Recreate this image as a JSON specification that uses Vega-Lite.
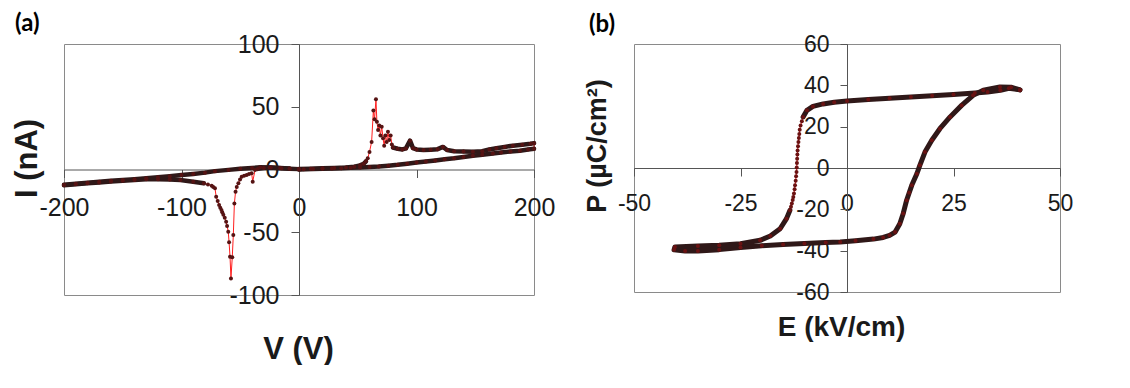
{
  "$schema": "https://vega.github.io/schema/vega-lite/v6.json",
  "background": "white",
  "padding": {"left": 10, "top": 11, "right": 0, "bottom": 0},
  "bounds": "flush",
  "spacing": 100,
  "config": {
    "view": {"stroke": "#8a8a8a", "strokeWidth": 1},
    "axis": {
      "grid": false,
      "domainColor": "#555555",
      "tickColor": "#555555",
      "labelColor": "#1a1a1a",
      "titleColor": "#1a1a1a",
      "labelFont": "Liberation Sans",
      "titleFont": "Liberation Sans",
      "titleFontWeight": "bold",
      "labelFlush": false,
      "labelOverlap": false,
      "labelExpr": "datum.value + ''",
      "titleAlign": "center",
      "titleBaseline": "middle"
    },
    "title": {"font": "Lato", "fontWeight": "bold", "color": "#000000", "anchor": "start", "frame": "group"}
  },
  "datasets": {
    "iv": [
      {"t": 1, "v": 0, "i": 0.3, "s": "rise+"},
      {"t": 2, "v": 10, "i": 0.5, "s": "rise+"},
      {"t": 3, "v": 20, "i": 0.9, "s": "rise+"},
      {"t": 4, "v": 30, "i": 1.2, "s": "rise+"},
      {"t": 5, "v": 40, "i": 1.6, "s": "rise+"},
      {"t": 6, "v": 47, "i": 2.2, "s": "rise+"},
      {"t": 7, "v": 52, "i": 3.3, "s": "rise+"},
      {"t": 8, "v": 55, "i": 4.6, "s": "rise+"},
      {"t": 9, "v": 57, "i": 6.5, "s": "rise+"},
      {"t": 10, "v": 58.5, "i": 9, "s": "peak"},
      {"t": 11, "v": 60, "i": 14, "s": "peak"},
      {"t": 12, "v": 61.8, "i": 22, "s": "peak"},
      {"t": 13, "v": 63.3, "i": 47, "s": "peak"},
      {"t": 14, "v": 64.3, "i": 40, "s": "peak"},
      {"t": 15, "v": 65.5, "i": 56, "s": "peak"},
      {"t": 16, "v": 66.3, "i": 38, "s": "peak"},
      {"t": 17, "v": 67.3, "i": 31.5, "s": "peak"},
      {"t": 18, "v": 68.3, "i": 35, "s": "peak"},
      {"t": 19, "v": 69.3, "i": 27, "s": "peak"},
      {"t": 20, "v": 70.4, "i": 34, "s": "peak"},
      {"t": 21, "v": 71.5, "i": 25, "s": "peak"},
      {"t": 22, "v": 72.5, "i": 19, "s": "peak"},
      {"t": 23, "v": 73.5, "i": 27, "s": "peak"},
      {"t": 24, "v": 74.6, "i": 22, "s": "peak"},
      {"t": 25, "v": 75.7, "i": 30, "s": "peak"},
      {"t": 26, "v": 76.8, "i": 23.5, "s": "peak"},
      {"t": 27, "v": 78, "i": 27, "s": "peak"},
      {"t": 28, "v": 79, "i": 20, "s": "peak"},
      {"t": 29, "v": 80, "i": 17.5, "s": "hold+"},
      {"t": 30, "v": 84, "i": 16.5, "s": "hold+"},
      {"t": 31, "v": 88, "i": 16, "s": "hold+"},
      {"t": 32, "v": 91, "i": 16.8, "s": "hold+"},
      {"t": 33, "v": 94.5, "i": 23, "s": "hold+"},
      {"t": 34, "v": 97, "i": 17, "s": "hold+"},
      {"t": 35, "v": 100, "i": 16, "s": "hold+"},
      {"t": 36, "v": 106, "i": 15.5, "s": "hold+"},
      {"t": 37, "v": 112, "i": 15.8, "s": "hold+"},
      {"t": 38, "v": 118, "i": 16.2, "s": "hold+"},
      {"t": 39, "v": 122.5, "i": 18, "s": "hold+"},
      {"t": 40, "v": 126, "i": 15.5, "s": "hold+"},
      {"t": 41, "v": 132, "i": 14.5, "s": "hold+"},
      {"t": 42, "v": 140, "i": 14.3, "s": "hold+"},
      {"t": 43, "v": 148, "i": 14.2, "s": "hold+"},
      {"t": 44, "v": 156, "i": 14.6, "s": "hold+"},
      {"t": 45, "v": 162, "i": 16, "s": "hold+"},
      {"t": 46, "v": 168, "i": 17, "s": "hold+"},
      {"t": 47, "v": 175, "i": 18, "s": "hold+"},
      {"t": 48, "v": 182, "i": 19, "s": "hold+"},
      {"t": 49, "v": 190, "i": 19.8, "s": "hold+"},
      {"t": 50, "v": 197, "i": 20.5, "s": "hold+"},
      {"t": 51, "v": 200, "i": 21, "s": "hold+"},
      {"t": 52, "v": 200, "i": 16.5, "s": "fall+"},
      {"t": 53, "v": 195, "i": 16, "s": "fall+"},
      {"t": 54, "v": 188, "i": 15, "s": "fall+"},
      {"t": 55, "v": 180, "i": 14.3, "s": "fall+"},
      {"t": 56, "v": 172, "i": 13.5, "s": "fall+"},
      {"t": 57, "v": 165, "i": 12.8, "s": "fall+"},
      {"t": 58, "v": 156, "i": 11.8, "s": "fall+"},
      {"t": 59, "v": 148, "i": 11, "s": "fall+"},
      {"t": 60, "v": 140, "i": 10, "s": "fall+"},
      {"t": 61, "v": 132, "i": 9, "s": "fall+"},
      {"t": 62, "v": 124, "i": 8.2, "s": "fall+"},
      {"t": 63, "v": 116, "i": 7.2, "s": "fall+"},
      {"t": 64, "v": 108, "i": 6.3, "s": "fall+"},
      {"t": 65, "v": 100, "i": 5.5, "s": "fall+"},
      {"t": 66, "v": 92, "i": 4.6, "s": "fall+"},
      {"t": 67, "v": 84, "i": 3.7, "s": "fall+"},
      {"t": 68, "v": 76, "i": 3, "s": "fall+"},
      {"t": 69, "v": 68, "i": 2.4, "s": "fall+"},
      {"t": 70, "v": 60, "i": 2, "s": "fall+"},
      {"t": 71, "v": 52, "i": 1.6, "s": "fall+"},
      {"t": 72, "v": 44, "i": 1.3, "s": "fall+"},
      {"t": 73, "v": 36, "i": 1, "s": "fall+"},
      {"t": 74, "v": 28, "i": 0.8, "s": "fall+"},
      {"t": 75, "v": 20, "i": 0.6, "s": "fall+"},
      {"t": 76, "v": 12, "i": 0.4, "s": "fall+"},
      {"t": 77, "v": 4, "i": 0.1, "s": "fall+"},
      {"t": 78, "v": 0, "i": 0, "s": "fall+"},
      {"t": 79, "v": -8, "i": 0.8, "s": "fall-"},
      {"t": 80, "v": -16, "i": 1.2, "s": "fall-"},
      {"t": 81, "v": -24, "i": 1.5, "s": "fall-"},
      {"t": 82, "v": -30, "i": 1.2, "s": "fall-"},
      {"t": 83, "v": -35, "i": 0.5, "s": "fall-"},
      {"t": 84, "v": -37.4, "i": -0.4, "s": "dip"},
      {"t": 85, "v": -39.4, "i": -9.7, "s": "dip"},
      {"t": 86, "v": -40.3, "i": -3, "s": "dip"},
      {"t": 87, "v": -42.5, "i": -3.6, "s": "dip"},
      {"t": 88, "v": -44.5, "i": -4.4, "s": "dip"},
      {"t": 89, "v": -46.7, "i": -5, "s": "dip"},
      {"t": 90, "v": -48.8, "i": -5.7, "s": "dip"},
      {"t": 91, "v": -50.2, "i": -8, "s": "dip"},
      {"t": 92, "v": -51.6, "i": -11, "s": "dip"},
      {"t": 93, "v": -53, "i": -14, "s": "dip"},
      {"t": 94, "v": -54, "i": -17.7, "s": "dip"},
      {"t": 95, "v": -55, "i": -27, "s": "dip"},
      {"t": 96, "v": -55.9, "i": -52.2, "s": "dip"},
      {"t": 97, "v": -56.8, "i": -70, "s": "dip"},
      {"t": 98, "v": -57.9, "i": -86.8, "s": "dip"},
      {"t": 99, "v": -58.7, "i": -69.5, "s": "dip"},
      {"t": 100, "v": -59.5, "i": -58, "s": "dip"},
      {"t": 101, "v": -60.2, "i": -49.6, "s": "dip"},
      {"t": 102, "v": -61.2, "i": -45, "s": "dip"},
      {"t": 103, "v": -62, "i": -41.6, "s": "dip"},
      {"t": 104, "v": -63.2, "i": -38.5, "s": "dip"},
      {"t": 105, "v": -64.4, "i": -36, "s": "dip"},
      {"t": 106, "v": -65.3, "i": -34, "s": "dip"},
      {"t": 107, "v": -66, "i": -32.3, "s": "dip"},
      {"t": 108, "v": -67, "i": -30.5, "s": "dip"},
      {"t": 109, "v": -68, "i": -28.3, "s": "dip"},
      {"t": 110, "v": -69.2, "i": -25, "s": "dip"},
      {"t": 111, "v": -70.5, "i": -21.7, "s": "dip"},
      {"t": 112, "v": -71.5, "i": -15, "s": "dip"},
      {"t": 113, "v": -73, "i": -14, "s": "dip"},
      {"t": 114, "v": -74.3, "i": -13, "s": "dip"},
      {"t": 115, "v": -77.5, "i": -12, "s": "dip"},
      {"t": 116, "v": -81, "i": -11, "s": "tail-"},
      {"t": 117, "v": -90, "i": -9.7, "s": "tail-"},
      {"t": 118, "v": -101, "i": -8.4, "s": "tail-"},
      {"t": 119, "v": -110, "i": -8, "s": "tail-"},
      {"t": 120, "v": -120, "i": -7.8, "s": "tail-"},
      {"t": 121, "v": -130, "i": -7.8, "s": "tail-"},
      {"t": 122, "v": -140, "i": -8.3, "s": "tail-"},
      {"t": 123, "v": -150, "i": -9, "s": "tail-"},
      {"t": 124, "v": -160, "i": -9.5, "s": "tail-"},
      {"t": 125, "v": -170, "i": -10.3, "s": "tail-"},
      {"t": 126, "v": -180, "i": -11, "s": "tail-"},
      {"t": 127, "v": -190, "i": -11.8, "s": "tail-"},
      {"t": 128, "v": -200, "i": -12.6, "s": "tail-"},
      {"t": 129, "v": -200, "i": -12.2, "s": "rise-"},
      {"t": 130, "v": -190, "i": -11.4, "s": "rise-"},
      {"t": 131, "v": -180, "i": -10.6, "s": "rise-"},
      {"t": 132, "v": -170, "i": -9.8, "s": "rise-"},
      {"t": 133, "v": -160, "i": -9, "s": "rise-"},
      {"t": 134, "v": -150, "i": -8.4, "s": "rise-"},
      {"t": 135, "v": -140, "i": -7.8, "s": "rise-"},
      {"t": 136, "v": -130, "i": -7, "s": "rise-"},
      {"t": 137, "v": -120, "i": -6.2, "s": "rise-"},
      {"t": 138, "v": -110, "i": -5.3, "s": "rise-"},
      {"t": 139, "v": -100, "i": -4.4, "s": "rise-"},
      {"t": 140, "v": -90, "i": -3.5, "s": "rise-"},
      {"t": 141, "v": -80, "i": -2.5, "s": "rise-"},
      {"t": 142, "v": -71.5, "i": -1.3, "s": "rise-"},
      {"t": 143, "v": -60, "i": -0.3, "s": "rise-"},
      {"t": 144, "v": -50, "i": 0.6, "s": "rise-"},
      {"t": 145, "v": -40, "i": 1.2, "s": "rise-"},
      {"t": 146, "v": -33, "i": 1.7, "s": "rise-"},
      {"t": 147, "v": -25, "i": 1.5, "s": "rise-"},
      {"t": 148, "v": -15, "i": 1, "s": "rise-"},
      {"t": 149, "v": -8, "i": 0.6, "s": "rise-"},
      {"t": 150, "v": 0, "i": 0.3, "s": "rise-"}
    ],
    "pe": [
      {"t": 1, "e": 40.6, "p": 37.8, "s": "top"},
      {"t": 2, "e": 38, "p": 38.6, "s": "top"},
      {"t": 3, "e": 36, "p": 37.6, "s": "top"},
      {"t": 4, "e": 33, "p": 36.8, "s": "top"},
      {"t": 5, "e": 30, "p": 36.3, "s": "top"},
      {"t": 6, "e": 25, "p": 35.6, "s": "top"},
      {"t": 7, "e": 20, "p": 35, "s": "top"},
      {"t": 8, "e": 15, "p": 34.4, "s": "top"},
      {"t": 9, "e": 10, "p": 33.7, "s": "top"},
      {"t": 10, "e": 5, "p": 33.1, "s": "top"},
      {"t": 11, "e": 0, "p": 32.4, "s": "top"},
      {"t": 12, "e": -3, "p": 31.8, "s": "top"},
      {"t": 13, "e": -5.6, "p": 31, "s": "top"},
      {"t": 14, "e": -8, "p": 29.8, "s": "top"},
      {"t": 15, "e": -9.4, "p": 27.9, "s": "top"},
      {"t": 16, "e": -10.3, "p": 24.7, "s": "top"},
      {"t": 17, "e": -10.6, "p": 22.6, "s": "switch"},
      {"t": 18, "e": -10.9, "p": 20.6, "s": "switch"},
      {"t": 19, "e": -11.1, "p": 18.5, "s": "switch"},
      {"t": 20, "e": -11.2, "p": 16.5, "s": "switch"},
      {"t": 21, "e": -11.3, "p": 14.5, "s": "switch"},
      {"t": 22, "e": -11.4, "p": 12.6, "s": "switch"},
      {"t": 23, "e": -11.5, "p": 10.5, "s": "switch"},
      {"t": 24, "e": -11.6, "p": 8.5, "s": "switch"},
      {"t": 25, "e": -11.65, "p": 6.5, "s": "switch"},
      {"t": 26, "e": -11.7, "p": 4.5, "s": "switch"},
      {"t": 27, "e": -11.75, "p": 2.4, "s": "switch"},
      {"t": 28, "e": -11.8, "p": 0.3, "s": "switch"},
      {"t": 29, "e": -11.85, "p": -1.9, "s": "switch"},
      {"t": 30, "e": -11.95, "p": -4, "s": "switch"},
      {"t": 31, "e": -12.05, "p": -6.2, "s": "switch"},
      {"t": 32, "e": -12.2, "p": -8.4, "s": "switch"},
      {"t": 33, "e": -12.3, "p": -10.3, "s": "switch"},
      {"t": 34, "e": -12.45, "p": -12.3, "s": "switch"},
      {"t": 35, "e": -12.6, "p": -14, "s": "switch"},
      {"t": 36, "e": -12.75, "p": -15.5, "s": "switch"},
      {"t": 37, "e": -12.95, "p": -17.2, "s": "switch"},
      {"t": 38, "e": -13.15, "p": -18.8, "s": "switch"},
      {"t": 39, "e": -13.4, "p": -20.5, "s": "bottom"},
      {"t": 40, "e": -14.2, "p": -24.5, "s": "bottom"},
      {"t": 41, "e": -15.7, "p": -29.4, "s": "bottom"},
      {"t": 42, "e": -18, "p": -32.9, "s": "bottom"},
      {"t": 43, "e": -20.4, "p": -35, "s": "bottom"},
      {"t": 44, "e": -25, "p": -36.6, "s": "bottom"},
      {"t": 45, "e": -30, "p": -37.4, "s": "bottom"},
      {"t": 46, "e": -35, "p": -37.8, "s": "bottom"},
      {"t": 47, "e": -40.4, "p": -38.2, "s": "bottom"},
      {"t": 48, "e": -40.6, "p": -39.6, "s": "bottom"},
      {"t": 49, "e": -38, "p": -40.2, "s": "bottom"},
      {"t": 50, "e": -35, "p": -40.2, "s": "bottom"},
      {"t": 51, "e": -30, "p": -39.5, "s": "bottom"},
      {"t": 52, "e": -25, "p": -38.5, "s": "bottom"},
      {"t": 53, "e": -20, "p": -37.6, "s": "bottom"},
      {"t": 54, "e": -15, "p": -37, "s": "bottom"},
      {"t": 55, "e": -10, "p": -36.5, "s": "bottom"},
      {"t": 56, "e": -5, "p": -36.1, "s": "bottom"},
      {"t": 57, "e": -1.6, "p": -35.8, "s": "bottom"},
      {"t": 58, "e": 2, "p": -35.2, "s": "bottom"},
      {"t": 59, "e": 6.2, "p": -34.4, "s": "bottom"},
      {"t": 60, "e": 8.5, "p": -33.6, "s": "bottom"},
      {"t": 61, "e": 10, "p": -32.6, "s": "bottom"},
      {"t": 62, "e": 11.3, "p": -31, "s": "bottom"},
      {"t": 63, "e": 12.4, "p": -27, "s": "bottom"},
      {"t": 64, "e": 13.2, "p": -22, "s": "bottom"},
      {"t": 65, "e": 14, "p": -15.6, "s": "bottom"},
      {"t": 66, "e": 14.6, "p": -12, "s": "bottom"},
      {"t": 67, "e": 15.2, "p": -8.4, "s": "bottom"},
      {"t": 68, "e": 16.4, "p": -2.8, "s": "bottom"},
      {"t": 69, "e": 17.1, "p": 1.3, "s": "bottom"},
      {"t": 70, "e": 18.3, "p": 7.7, "s": "bottom"},
      {"t": 71, "e": 19.9, "p": 13.4, "s": "bottom"},
      {"t": 72, "e": 21.8, "p": 19, "s": "bottom"},
      {"t": 73, "e": 24.2, "p": 24.7, "s": "bottom"},
      {"t": 74, "e": 26.9, "p": 30.3, "s": "bottom"},
      {"t": 75, "e": 29.6, "p": 35.2, "s": "bottom"},
      {"t": 76, "e": 32, "p": 37.6, "s": "bottom"},
      {"t": 77, "e": 35.9, "p": 39.2, "s": "bottom"},
      {"t": 78, "e": 38.5, "p": 39.1, "s": "bottom"},
      {"t": 79, "e": 40.6, "p": 37.8, "s": "bottom"}
    ]
  },
  "hconcat": [
    {
      "width": 470,
      "height": 251,
      "data": {"name": "iv"},
      "title": {"text": "(a)", "fontSize": 24, "dx": -49, "dy": 8},
      "encoding": {
        "x": {
          "field": "v", "type": "quantitative",
          "scale": {"domain": [-200, 200], "nice": false, "zero": false},
          "axis": {
            "values": [-200, -100, 0, 100, 200],
            "offset": -125.5, "tickSize": 8, "labelPadding": 18, "labelFontSize": 25,
            "title": "V (V)", "titleFontSize": 31, "titleX": 234, "titleY": 179.5
          }
        },
        "y": {
          "field": "i", "type": "quantitative",
          "scale": {"domain": [-100, 100], "nice": false, "zero": false},
          "axis": {
            "values": [-100, -50, 0, 50, 100],
            "offset": -235, "tickSize": 8, "labelPadding": 12, "labelFontSize": 25,
            "title": "I (nA)", "titleFontSize": 31, "titleX": -272, "titleY": 114, "titleAngle": -90
          }
        }
      },
      "layer": [
        {"mark": {"type": "line", "color": "#ff1f1f", "strokeWidth": 1}, "encoding": {"order": {"field": "t", "type": "quantitative"}}},
        {
          "transform": [{"filter": {"not": {"field": "s", "oneOf": ["peak", "dip"]}}}],
          "mark": {"type": "line", "color": "#2f1818", "strokeWidth": 4.5, "strokeCap": "round", "strokeJoin": "round"},
          "encoding": {"order": {"field": "t", "type": "quantitative"}, "detail": {"field": "s"}}
        },
        {"mark": {"type": "point", "filled": true, "size": 16, "color": "#561313", "opacity": 1}}
      ]
    },
    {
      "width": 426,
      "height": 248,
      "data": {"name": "pe"},
      "title": {"text": "(b)", "fontSize": 24, "dx": -45, "dy": 8},
      "encoding": {
        "x": {
          "field": "e", "type": "quantitative",
          "scale": {"domain": [-50, 50], "nice": false, "zero": false},
          "axis": {
            "values": [-50, -25, 0, 25, 50],
            "offset": -124, "tickSize": 8, "labelPadding": 16, "labelFontSize": 23,
            "title": "E (kV/cm)", "titleFontSize": 28, "titleX": 207, "titleY": 159
          }
        },
        "y": {
          "field": "p", "type": "quantitative",
          "scale": {"domain": [-60, 60], "nice": false, "zero": false},
          "axis": {
            "values": [-60, -40, -20, 0, 20, 40, 60],
            "offset": -213, "tickSize": 7, "labelPadding": 11, "labelFontSize": 23,
            "title": "P (µC/cm²)", "titleFontSize": 27, "titleX": -250, "titleY": 101.5, "titleAngle": -90
          }
        }
      },
      "layer": [
        {"mark": {"type": "line", "color": "#ff1f1f", "strokeWidth": 1}, "encoding": {"order": {"field": "t", "type": "quantitative"}}},
        {
          "transform": [{"filter": {"not": {"field": "s", "oneOf": ["switch"]}}}],
          "mark": {"type": "line", "color": "#2f1818", "strokeWidth": 5, "strokeCap": "round", "strokeJoin": "round"},
          "encoding": {"order": {"field": "t", "type": "quantitative"}, "detail": {"field": "s"}}
        },
        {"mark": {"type": "point", "filled": true, "size": 16, "color": "#6a1212", "opacity": 1}}
      ]
    }
  ]
}
